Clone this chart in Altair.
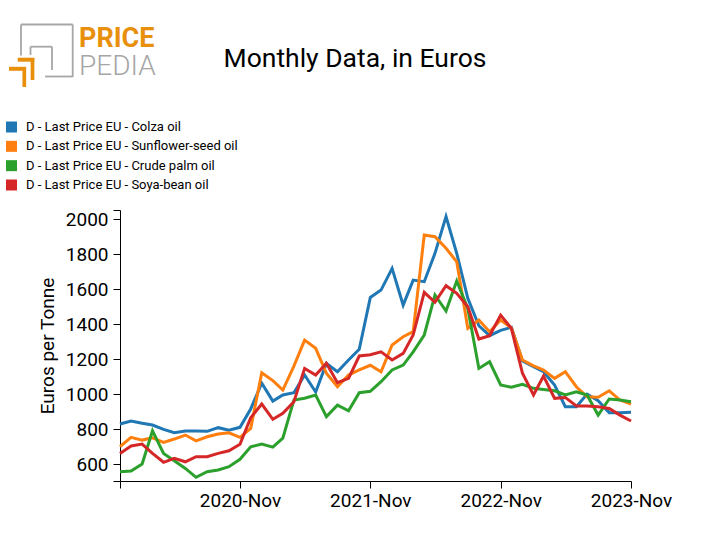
import altair as alt
import pandas as pd

# ---- data -------------------------------------------------------------
months = pd.date_range("2019-12-01", "2023-11-01", freq="MS").strftime("%Y-%m-%d").tolist()

colza = [829, 846, 833, 823, 798, 779, 789, 789, 787, 808, 794, 810,
         915, 1062, 960, 995, 1008, 1109, 1012, 1175, 1128, 1195, 1256, 1553,
         1595, 1719, 1509, 1652, 1643, 1805, 2015, 1805, 1548, 1391, 1334, 1365,
         1382, 1189, 1157, 1128, 1052, 928, 928, 1000, 962, 894, 894, 896]
sunflower = [699, 753, 737, 750, 724, 743, 766, 733, 756, 772, 779, 753,
             804, 1122, 1077, 1023, 1160, 1309, 1262, 1119, 1042, 1109, 1138, 1165,
             1128, 1281, 1328, 1357, 1910, 1900, 1834, 1757, 1376, 1424, 1357, 1424,
             1378, 1195, 1162, 1138, 1090, 1128, 1042, 985, 982, 1019, 966, 943]
palm = [556, 560, 600, 790, 661, 619, 575, 524, 556, 566, 585, 627,
        699, 714, 697, 748, 966, 976, 995, 871, 937, 905, 1008, 1016,
        1071, 1138, 1166, 1242, 1338, 1567, 1475, 1647, 1490, 1147, 1185, 1052,
        1039, 1056, 1033, 1027, 1019, 995, 1013, 995, 880, 972, 966, 956]
soya = [661, 703, 714, 661, 610, 633, 613, 642, 642, 661, 676, 713,
        865, 943, 856, 890, 956, 1147, 1109, 1176, 1065, 1090, 1218, 1225,
        1242, 1195, 1233, 1338, 1582, 1525, 1620, 1576, 1500, 1315, 1334, 1452,
        1376, 1119, 995, 1103, 976, 981, 932, 932, 928, 918, 880, 846]

series_names = ["D - Last Price EU - Colza oil",
                "D - Last Price EU - Sunflower-seed oil",
                "D - Last Price EU - Crude palm oil",
                "D - Last Price EU - Soya-bean oil"]
series_colors = ["#1f77b4", "#ff7f0e", "#2ca02c", "#d62728"]

y_ticks = [503, 600, 800, 1000, 1200, 1400, 1600, 1800, 2000, 2053]

rows = []
for name, vals in zip(series_names, [colza, sunflower, palm, soya]):
    for m, v in zip(months, vals):
        rows.append({"month": m, "value": v, "series": name})
df = pd.DataFrame(rows)

FONT = "Roboto"
OX, OY = 120, 210  # plot origin on the page

x_vals = [alt.DateTime(year=2019, month=12, date=1, utc=True)] + \
         [alt.DateTime(year=y, month=11, date=1, utc=True) for y in (2020, 2021, 2022, 2023)]

color_scale = alt.Scale(domain=series_names, range=series_colors)

lines = alt.Chart(df).mark_line(strokeWidth=3).encode(
    x=alt.X("month:T",
            scale=alt.Scale(type="utc", nice=False,
                            domain=[alt.DateTime(year=2019, month=12, date=1, utc=True),
                                    alt.DateTime(year=2023, month=11, date=1, utc=True)]),
            axis=alt.Axis(values=x_vals, title=None, grid=False,
                          labelExpr="utcFormat(datum.value, '%m') == '11' ? utcFormat(datum.value, '%Y-%b') : ''",
                          labelFont=FONT, labelFontSize=19, labelColor="black",
                          labelPadding=3, tickSize=7, tickColor="black",
                          domainColor="black", labelFlush=False, labelOverlap=False)),
    y=alt.Y("value:Q",
            scale=alt.Scale(domain=[503, 2053], nice=False, zero=False),
            axis=alt.Axis(values=y_ticks, format="d", grid=False,
                          labelExpr="datum.value % 200 == 0 ? datum.label : ''",
                          title="Euros per Tonne", titleFont=FONT, titleFontSize=19,
                          titleFontWeight="normal", titleColor="black", titlePadding=8,
                          labelFont=FONT, labelFontSize=19, labelColor="black",
                          labelPadding=5, tickSize=7, tickColor="black",
                          domainColor="black", labelOverlap=False)),
    color=alt.Color("series:N", scale=color_scale, legend=None),
)

# ---- legend built from the series names ---------------------------------
legend_data = alt.Data(values=[{"series": s} for s in series_names])
legend_y = alt.Y("series:N", axis=None,
                 scale=alt.Scale(domain=series_names, range=[127 - OY, 185 - OY], padding=0))

legend_sq = alt.Chart(legend_data).mark_square(size=121, opacity=1, strokeWidth=0).encode(
    x=alt.value(11.5 - OX), y=legend_y,
    color=alt.Color("series:N", scale=color_scale, legend=None),
)
legend_txt = alt.Chart(legend_data).mark_text(
    align="left", baseline="middle", font=FONT, fontSize=13, color="black").encode(
    x=alt.value(26 - OX), y=legend_y, text="series:N",
)

# ---- title (text) -------------------------------------------------------
title_layer = alt.Chart(alt.Data(values=[{"k": 1}])).mark_text(
    text="Monthly Data, in Euros", font=FONT, fontSize=26.5, color="black",
    align="center", baseline="alphabetic").encode(
    x=alt.value(355 - OX), y=alt.value(67 - OY))

# ---- logo (decoration) -------------------------------------------------
GRAY = "#a6a6a6"
ORANGE = "#e8900c"
logo_segments = [
    # (x1, y1, x2, y2, color, width)
    (21, 24.5, 21, 55.5, GRAY, 1.8),
    (21, 24.5, 72.7, 24.5, GRAY, 1.8),
    (72.7, 24.5, 72.7, 77, GRAY, 1.8),
    (45, 76.5, 72.7, 76.5, GRAY, 1.8),
    (30.5, 46.7, 52, 46.7, GRAY, 1.8),
    (52, 46.7, 52, 70, GRAY, 1.8),
    (30.5, 46.7, 30.5, 55, GRAY, 1.8),
    (17.7, 59.7, 34.3, 59.7, ORANGE, 4),
    (32.5, 58, 32.5, 80, ORANGE, 3.7),
    (9, 68.8, 26, 68.8, ORANGE, 4),
    (24.3, 67, 24.3, 87, ORANGE, 3.7),
]
logo_layers = []
for x1, y1, x2, y2, c, w in logo_segments:
    logo_layers.append(
        alt.Chart(alt.Data(values=[{"k": 1}])).mark_rule(color=c, strokeWidth=w, strokeCap="butt").encode(
            x=alt.value(x1 - OX), y=alt.value(y1 - OY),
            x2=alt.value(x2 - OX), y2=alt.value(y2 - OY))
    )
logo_layers.append(
    alt.Chart(alt.Data(values=[{"k": 1}])).mark_text(
        text="PRICE", font=FONT, fontSize=27, fontWeight="bold", color=ORANGE,
        align="left", baseline="alphabetic").encode(
        x=alt.value(79 - OX), y=alt.value(46.7 - OY))
)
logo_layers.append(
    alt.Chart(alt.Data(values=[{"k": 1}])).mark_text(
        text="PEDIA", font=FONT, fontSize=28, fontWeight=300, color=GRAY,
        align="left", baseline="alphabetic").encode(
        x=alt.value(79 - OX), y=alt.value(74.5 - OY))
)

chart = alt.layer(lines, legend_sq, legend_txt, title_layer, *logo_layers).resolve_scale(
    y="independent"
).properties(
    width=511, height=271,
    autosize=alt.AutoSizeParams(type="none"),
    padding={"left": OX, "top": OY, "right": 712 - OX - 511, "bottom": 555 - OY - 271},
).configure_view(strokeWidth=0)

chart.save("out.html", embed_options={"renderer": "svg", "actions": False})
